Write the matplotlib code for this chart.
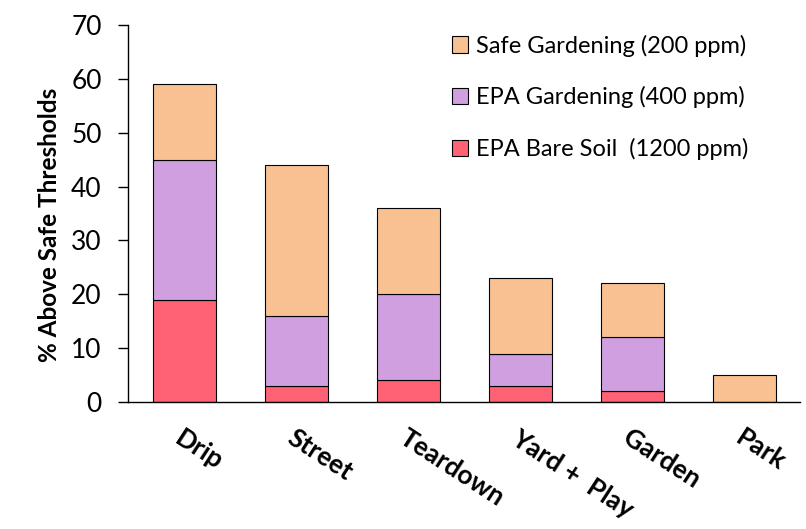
import matplotlib.pyplot as plt
import numpy as np

categories = ["Drip", "Street", "Teardown", "Yard +  Play", "Garden", "Park"]
bare_soil = [19, 3, 4, 3, 2, 0]        # EPA Bare Soil (1200 ppm)
epa_garden = [26, 13, 16, 6, 10, 0]    # EPA Gardening (400 ppm)
safe_garden = [14, 28, 16, 14, 10, 5]  # Safe Gardening (200 ppm)

plt.rcParams['font.family'] = ['Lato', 'DejaVu Sans']

fig = plt.figure(figsize=(8.06, 5.29), dpi=100)
ax = fig.add_axes([0.159, 0.240, 0.834, 0.713])

x = np.arange(len(categories))
w = 0.56
bot2 = np.array(bare_soil)
bot3 = bot2 + np.array(epa_garden)
b1 = ax.bar(x, bare_soil, w, color="#FF6275", edgecolor="black", linewidth=0.8,
            label="EPA Bare Soil  (1200 ppm)")
b2 = ax.bar(x, epa_garden, w, bottom=bot2, color="#D09FE0", edgecolor="black", linewidth=0.8,
            label="EPA Gardening (400 ppm)")
b3 = ax.bar(x, safe_garden, w, bottom=bot3, color="#F9C192", edgecolor="black", linewidth=0.8,
            label="Safe Gardening (200 ppm)")

ax.set_xlim(-0.5, len(categories) - 0.5)
ax.set_ylim(0, 70)
ax.set_yticks(np.arange(0, 71, 10))
ax.tick_params(axis='y', labelsize=19, length=7, width=1, direction='out', pad=12)
ax.tick_params(axis='x', length=0, pad=17)
ax.set_xticks(x)
ax.set_xticklabels(categories, rotation=-33, ha='left', rotation_mode='anchor',
                   fontsize=19, fontweight='bold')
ax.set_ylabel("% Above Safe Thresholds", fontsize=17.5, fontweight='bold')
ax.yaxis.set_label_coords(-0.1, 0.47)

for s in ['top', 'right']:
    ax.spines[s].set_visible(False)
ax.spines['left'].set_linewidth(1)
ax.spines['bottom'].set_linewidth(1)

ax.legend(handles=[b3, b2, b1], loc='upper left', bbox_to_anchor=(0.45, 1.03),
          frameon=False, fontsize=17, labelspacing=1.25, handlelength=0.7,
          handleheight=0.7, handletextpad=0.3)

fig.savefig("out.png", dpi=100)
